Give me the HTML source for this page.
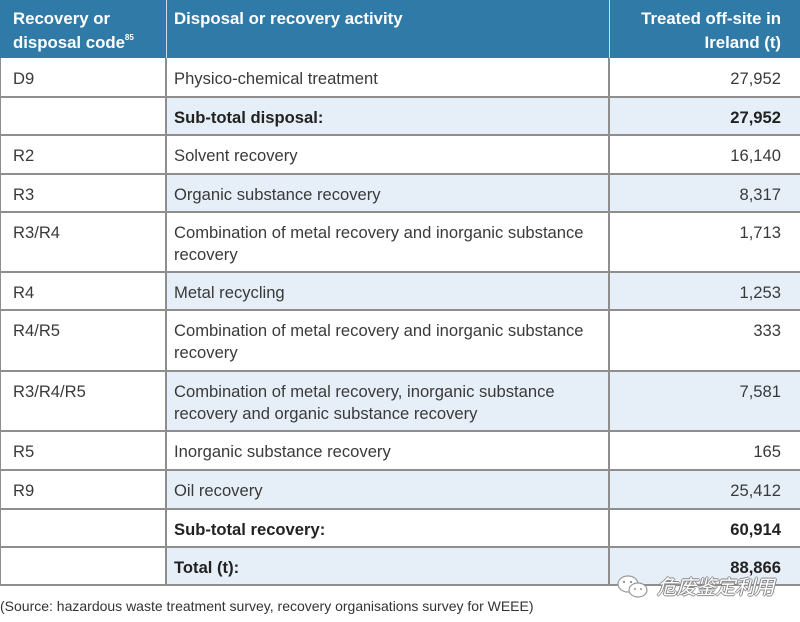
<!DOCTYPE html>
<html><head><meta charset="utf-8"><style>
html,body{margin:0;padding:0;background:#fff;}
body{width:800px;height:622px;position:relative;overflow:hidden;font-family:"Liberation Sans","Noto Sans CJK SC",sans-serif;color:#3a3a3a;}
.hdr{position:absolute;left:0;top:0;width:800px;height:58px;background:#2f7aa7;}
.ht{position:absolute;color:#fff;font-weight:bold;font-size:16.8px;line-height:24px;top:7px;}
.hsep{position:absolute;top:0;width:1px;height:58px;background:#c9dcea;}
.row{position:absolute;left:0;width:800px;}
.c1,.c2,.c3{position:absolute;top:0;bottom:0;box-sizing:border-box;font-size:16.6px;line-height:22px;padding-top:10px;}
.c1{left:0;width:166px;padding-left:13px;background:#fff;}
.c2{left:167px;width:442px;padding-left:7px;}
.c3{left:610px;width:190px;text-align:right;padding-right:19px;}
.sh .c2,.sh .c3{background:#e6eef7;}
.b{font-weight:bold;color:#222;}
.hl{position:absolute;left:0;width:800px;height:2px;background:#8e8e8e;}
.vl{position:absolute;top:58px;width:2px;height:528px;background:#8e8e8e;}
.src{position:absolute;left:0;top:597px;font-size:14px;line-height:18px;color:#333;}
.wm{position:absolute;left:657px;top:573px;font-size:20px;line-height:26px;color:#fff;font-style:italic;letter-spacing:-0.5px;
text-shadow:-1px 0 #888,1px 0 #888,0 -1px #888,0 1px #888;font-family:"Noto Sans CJK SC",sans-serif;}
</style></head><body>
<div class="hdr"></div>
<div class="hsep" style="left:166px"></div>
<div class="hsep" style="left:609px"></div>
<div class="ht" style="left:13px">Recovery or<br>disposal code<sup style="font-size:8px;vertical-align:top;line-height:14px">85</sup></div>
<div class="ht" style="left:174px">Disposal or recovery activity</div>
<div class="ht" style="right:19px;text-align:right">Treated off-site in<br>Ireland (t)</div>

<div class="row" style="top:58px;height:39px"><div class="c1">D9</div><div class="c2">Physico-chemical treatment</div><div class="c3">27,952</div></div>
<div class="row sh" style="top:97px;height:38px"><div class="c1"></div><div class="c2 b">Sub-total disposal:</div><div class="c3 b">27,952</div></div>
<div class="row" style="top:135px;height:39px"><div class="c1">R2</div><div class="c2">Solvent recovery</div><div class="c3">16,140</div></div>
<div class="row sh" style="top:174px;height:38px"><div class="c1">R3</div><div class="c2">Organic substance recovery</div><div class="c3">8,317</div></div>
<div class="row" style="top:212px;height:60px"><div class="c1">R3/R4</div><div class="c2">Combination of metal recovery and inorganic substance<br>recovery</div><div class="c3">1,713</div></div>
<div class="row sh" style="top:272px;height:38px"><div class="c1">R4</div><div class="c2">Metal recycling</div><div class="c3">1,253</div></div>
<div class="row" style="top:310px;height:61px"><div class="c1">R4/R5</div><div class="c2">Combination of metal recovery and inorganic substance<br>recovery</div><div class="c3">333</div></div>
<div class="row sh" style="top:371px;height:60px"><div class="c1">R3/R4/R5</div><div class="c2">Combination of metal recovery, inorganic substance<br>recovery and organic substance recovery</div><div class="c3">7,581</div></div>
<div class="row" style="top:431px;height:39px"><div class="c1">R5</div><div class="c2">Inorganic substance recovery</div><div class="c3">165</div></div>
<div class="row sh" style="top:470px;height:39px"><div class="c1">R9</div><div class="c2">Oil recovery</div><div class="c3">25,412</div></div>
<div class="row" style="top:509px;height:38px"><div class="c1"></div><div class="c2 b">Sub-total recovery:</div><div class="c3 b">60,914</div></div>
<div class="row sh" style="top:547px;height:38px"><div class="c1"></div><div class="c2 b">Total (t):</div><div class="c3 b">88,866</div></div>

<div class="hl" style="top:96px"></div>
<div class="hl" style="top:134px"></div>
<div class="hl" style="top:173px"></div>
<div class="hl" style="top:211px"></div>
<div class="hl" style="top:271px"></div>
<div class="hl" style="top:309px"></div>
<div class="hl" style="top:370px"></div>
<div class="hl" style="top:430px"></div>
<div class="hl" style="top:469px"></div>
<div class="hl" style="top:508px"></div>
<div class="hl" style="top:546px"></div>
<div class="hl" style="top:584px"></div>
<div class="vl" style="left:0px;width:1px"></div>
<div class="vl" style="left:165px"></div>
<div class="vl" style="left:608px"></div>

<svg style="position:absolute;left:616px;top:573px" width="36" height="28" viewBox="0 0 36 28">
<ellipse cx="12" cy="11" rx="10" ry="8" fill="#fff" stroke="#999" stroke-width="1.2"/>
<ellipse cx="22" cy="17" rx="9" ry="7" fill="#fff" stroke="#999" stroke-width="1.2"/>
<circle cx="8" cy="9" r="1.2" fill="#999"/><circle cx="15" cy="9" r="1.2" fill="#999"/>
<circle cx="19" cy="16" r="1" fill="#999"/><circle cx="25" cy="16" r="1" fill="#999"/>
</svg>
<div class="wm">危废鉴定利用</div>

<div class="src">(Source: hazardous waste treatment survey, recovery organisations survey for WEEE)</div>
</body></html>
